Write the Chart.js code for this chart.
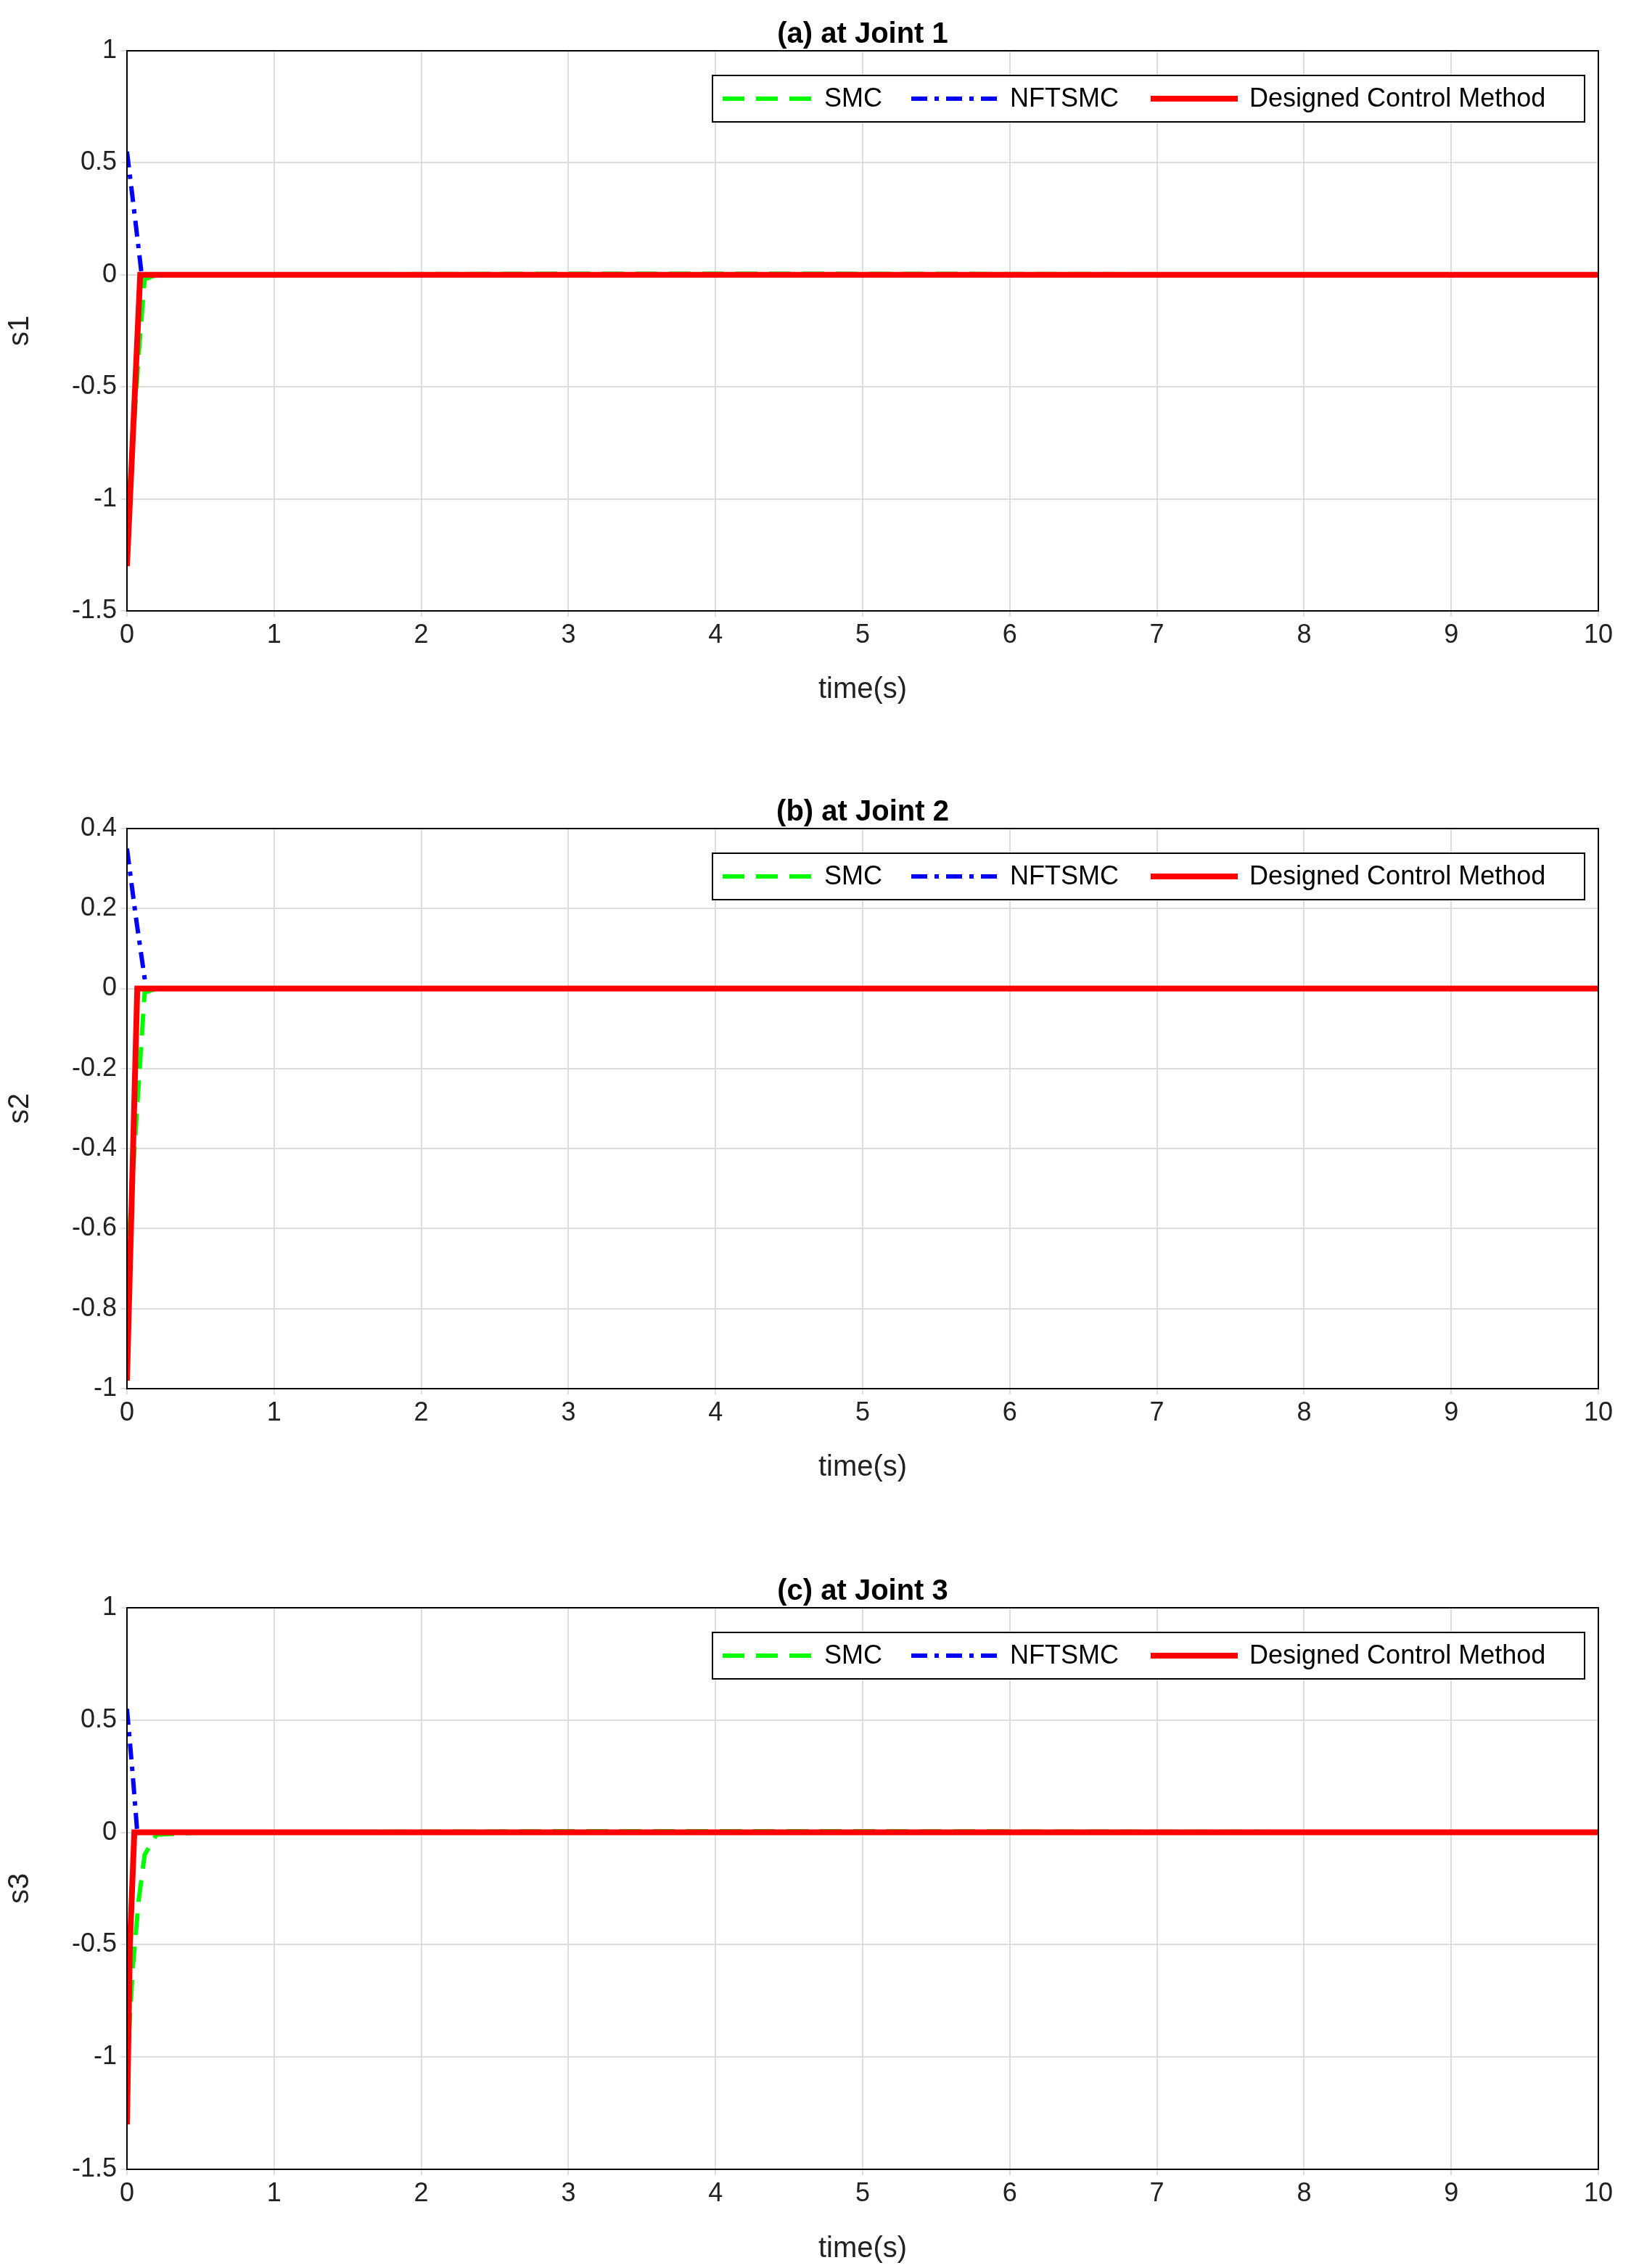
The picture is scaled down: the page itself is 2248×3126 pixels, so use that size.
<!DOCTYPE html>
<html><head><meta charset="utf-8">
<script src="https://cdn.jsdelivr.net/npm/chart.js@4"></script>
<style>body{margin:0;background:#fff;width:2248px;height:3126px;position:relative;overflow:hidden}
canvas{position:absolute;left:0}</style></head><body>
<canvas id="c1" style="top:0"></canvas>
<canvas id="c2" style="top:1070px"></canvas>
<canvas id="c3" style="top:2146px"></canvas>
<script>
const seriesNames=['SMC','NFTSMC','Designed Control Method'];
const xTicks=[0,1,2,3,4,5,6,7,8,9,10];
// panel a
const a_smc=[[0,-1.1],[0.04,-0.75],[0.08,-0.35],[0.12,-0.02],[0.2,0],[3,0.005],[4.5,0.005],[10,0]];
const a_nft=[[0,0.55],[0.05,0.28],[0.1,0],[10,0]];
const a_des=[[0,-1.3],[0.09,0],[10,0]];
// panel b
const b_smc=[[0,-0.7],[0.06,-0.35],[0.12,-0.01],[0.2,0],[10,0]];
const b_nft=[[0,0.35],[0.06,0.18],[0.13,0],[10,0]];
const b_des=[[0,-0.98],[0.07,0],[10,0]];
// panel c
const c_smc=[[0,-1.05],[0.04,-0.6],[0.08,-0.3],[0.12,-0.1],[0.2,-0.01],[0.5,0],[3,0.005],[5,0.005],[10,0]];
const c_nft=[[0,0.55],[0.04,0.25],[0.07,0],[10,0]];
const c_des=[[0,-1.3],[0.02,-0.5],[0.05,0],[10,0]];

const colors=['#00ff00','#0000ff','#ff0000'];
const dashes=[[30,16],[22,10,6,10],[]];
const widths=[6,6,8];
const F='Arial, "Liberation Sans", sans-serif';

const deco={id:'deco',afterDraw(ch){
  const c=ch.ctx,a=ch.chartArea,o=ch.options.plugins.deco;
  c.save();c.strokeStyle='#000';c.lineWidth=2;c.setLineDash([]);
  c.strokeRect(a.left,a.top,a.right-a.left,a.bottom-a.top);
  c.fillStyle='#000';c.font='bold 40px '+F;c.textAlign='center';c.textBaseline='bottom';
  c.fillText(o.title,(a.left+a.right)/2,a.top-2);
  const y0=a.top+34,h=64;
  c.fillStyle='#fff';c.fillRect(982,y0,1202,h);
  c.strokeStyle='#000';c.lineWidth=2;c.strokeRect(982,y0,1202,h);
  const xs=[[996,1120,1136],[1256,1376,1392],[1586,1706,1722]];
  c.font='36px '+F;c.textAlign='left';c.textBaseline='middle';
  for(let i=0;i<3;i++){
    c.strokeStyle=colors[i];c.lineWidth=widths[i];c.setLineDash(dashes[i]);
    c.beginPath();c.moveTo(xs[i][0],y0+h/2);c.lineTo(xs[i][1],y0+h/2);c.stroke();
    c.setLineDash([]);c.fillStyle='#000';c.fillText(seriesNames[i],xs[i][2],y0+h/2+1);
  }
  c.restore();
}};
Chart.register(deco);
const fmt=v=>{const r=Math.round(v*10)/10;return r===0?'0':String(r);};

function make(id,h,top,xh,data,ymin,ymax,step,ylab,title){
  const cv=document.getElementById(id);cv.width=2248;cv.height=h;cv.style.width='2248px';cv.style.height=h+'px';
  new Chart(cv,{type:'line',data:{datasets:data.map((d,i)=>({label:seriesNames[i],order:2-i,
    data:d.map(p=>({x:p[0],y:p[1]})),borderColor:colors[i],borderWidth:widths[i],borderDash:dashes[i],
    pointRadius:0,fill:false,tension:0}))},
  options:{responsive:false,animation:false,devicePixelRatio:1,
    layout:{padding:{top:top,right:45,left:0,bottom:0}},
    plugins:{legend:{display:false},tooltip:{enabled:false},deco:{title:title}},
    scales:{
      x:{type:'linear',min:0,max:10,afterBuildTicks:s=>{s.ticks=xTicks.map(v=>({value:v}))},
        grid:{color:'#dddddd',lineWidth:2,tickLength:8},border:{display:false},
        ticks:{color:'#222',font:{size:36,family:F},maxRotation:0,padding:4,callback:fmt},
        title:{display:true,text:'time(s)',color:'#222',font:{size:40,family:F},padding:{top:0,bottom:0}},
        afterFit:s=>{s.height=xh}},
      y:{min:ymin,max:ymax,ticks:{stepSize:step,color:'#222',font:{size:36,family:F},padding:6,callback:fmt},
        grid:{color:'#dddddd',lineWidth:2,tickLength:8},border:{display:false},
        title:{display:true,text:ylab,color:'#222',font:{size:40,family:F}},
        afterFit:s=>{s.width=175}}
    }}});
}
make('c1',975,70,133,[a_smc,a_nft,a_des],-1.5,1,0.5,'s1','(a) at Joint 1');
make('c2',977,72,133,[b_smc,b_nft,b_des],-1,0.4,0.2,'s2','(b) at Joint 2');
make('c3',978,70,134,[c_smc,c_nft,c_des],-1.5,1,0.5,'s3','(c) at Joint 3');
</script></body></html>
